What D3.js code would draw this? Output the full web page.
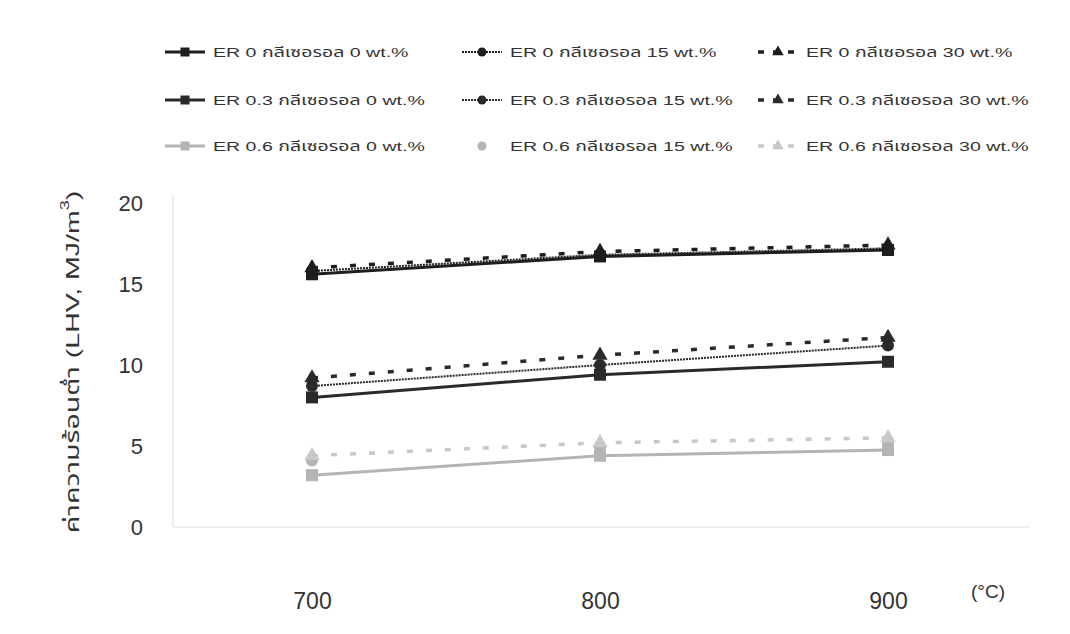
<!DOCTYPE html>
<html>
<head>
<meta charset="utf-8">
<script src="https://cdn.jsdelivr.net/npm/d3@7"></script>
<style>
  body { margin: 0; background: #fff; }
  svg { font-family: Arial, "Liberation Sans", "Noto Sans Thai", sans-serif; }
</style>
</head>
<body>
<div id="chart"></div>
<script>
// LHV vs temperature, by ER and glycerol content

const temps = ["700", "800", "900"];
const yTicks = [0, 5, 10, 15, 20];

const er0_g0 = [15.6, 16.7, 17.1];
const er0_g15 = [15.8, 16.8, 17.2];
const er0_g30 = [16.0, 17.0, 17.4];
const er03_g0 = [8.0, 9.4, 10.2];
const er03_g15 = [8.7, 10.0, 11.2];
const er03_g30 = [9.2, 10.6, 11.7];
const er06_g0 = [3.2, 4.4, 4.75];
const er06_g15 = [4.1, 4.9, 5.1];
const er06_g30 = [4.4, 5.2, 5.5];

const seriesNames = [
  "ER 0 กลีเซอรอล 0 wt.%", "ER 0 กลีเซอรอล 15 wt.%", "ER 0 กลีเซอรอล 30 wt.%",
  "ER 0.3 กลีเซอรอล 0 wt.%", "ER 0.3 กลีเซอรอล 15 wt.%", "ER 0.3 กลีเซอรอล 30 wt.%",
  "ER 0.6 กลีเซอรอล 0 wt.%", "ER 0.6 กลีเซอรอล 15 wt.%", "ER 0.6 กลีเซอรอล 30 wt.%"
];
const seriesValues = [er0_g0, er0_g15, er0_g30, er03_g0, er03_g15, er03_g30, er06_g0, er06_g15, er06_g30];

// style per glycerol level (0, 15, 30) and colour per ER
const erColors = ["#1e1e1e", "#2a2a2a", "#b4b4b4"];
const styles = [
  { marker: "square", width: 3, dash: null },
  { marker: "circle", width: 2, dash: "2,1" },
  { marker: "triangle", width: 3.5, dash: "6,13" }
];

const width = 1070, height = 634;
const x = d3.scalePoint().domain(temps).range([168, 1032]).padding(0.5);
const y = d3.scaleLinear().domain([0, 20]).range([527, 203]);

const svg = d3.select("#chart").append("svg")
  .attr("width", width)
  .attr("height", height);

// faint plot frame
svg.append("line").attr("x1", 173).attr("x2", 173).attr("y1", y(20) - 8).attr("y2", y(0))
  .attr("stroke", "#eee").attr("stroke-width", 2);
svg.append("line").attr("x1", 173).attr("x2", 1030).attr("y1", y(0)).attr("y2", y(0))
  .attr("stroke", "#f0f0f0").attr("stroke-width", 2);

// y axis
const yAxis = d3.axisLeft(y).tickValues(yTicks).tickSize(0).tickPadding(0);
svg.append("g")
  .attr("transform", "translate(143,0)")
  .call(yAxis)
  .call(g => g.select(".domain").remove())
  .call(g => g.selectAll("text")
    .attr("font-size", 22).attr("fill", "#333").attr("font-family", "Arial, 'Liberation Sans', sans-serif"));

// x axis
const xAxis = d3.axisBottom(x).tickSize(0).tickPadding(0);
svg.append("g")
  .attr("transform", "translate(0,593)")
  .call(xAxis)
  .call(g => g.select(".domain").remove())
  .call(g => g.selectAll("text")
    .attr("font-size", 23).attr("fill", "#333").attr("font-family", "Arial, 'Liberation Sans', sans-serif"));

svg.append("text")
  .attr("x", 988).attr("y", 598)
  .attr("text-anchor", "middle")
  .attr("font-size", 19).attr("fill", "#333")
  .text("(°C)");

// y label (stretched along its length like the source)
const ylab = svg.append("text")
  .attr("transform", "translate(79,362) rotate(-90) scale(1.5,1)")
  .attr("text-anchor", "middle")
  .attr("font-size", 19).attr("fill", "#333");
ylab.append("tspan").text("ค่าความร้อนต่ำ (LHV, MJ/m");
ylab.append("tspan").attr("dy", -10).attr("font-size", 12).text("3");
ylab.append("tspan").attr("dy", 10).text(")");

function drawMarker(g, type, cx, cy, size, color) {
  if (type === "square") {
    g.append("rect").attr("x", cx - size / 2).attr("y", cy - size / 2)
      .attr("width", size).attr("height", size).attr("fill", color);
  } else if (type === "circle") {
    g.append("circle").attr("cx", cx).attr("cy", cy).attr("r", size / 2).attr("fill", color);
  } else {
    g.append("path")
      .attr("d", d3.symbol(d3.symbolTriangle, size * size * 0.7)())
      .attr("transform", `translate(${cx},${cy})`)
      .attr("fill", color);
  }
}

const line = d3.line().x((d, i) => x(temps[i])).y(d => y(d));

seriesValues.forEach((vals, k) => {
  const er = Math.floor(k / 3), gl = k % 3;
  const st = styles[gl];
  const color = gl === 2 && er === 2 ? "#c8c8c8" : erColors[er];
  const g = svg.append("g");
  if (!(er === 2 && gl === 1)) {
    g.append("path")
      .datum(vals)
      .attr("d", line)
      .attr("fill", "none")
      .attr("stroke", color)
      .attr("stroke-width", st.width)
      .attr("stroke-dasharray", st.dash);
  }
  vals.forEach((v, i) => drawMarker(g, st.marker, x(temps[i]), y(v), 12, color));
});

// legend
const legendCols = [165, 462, 758];
const legendRows = [52, 100, 146];
seriesValues.forEach((vals, k) => {
  const er = Math.floor(k / 3), gl = k % 3;
  const st = styles[gl];
  const color = gl === 2 && er === 2 ? "#c8c8c8" : erColors[er];
  const lx = legendCols[gl], ly = legendRows[er];
  const g = svg.append("g");
  if (!(er === 2 && gl === 1)) {
    g.append("line")
      .attr("x1", lx).attr("x2", lx + 40).attr("y1", ly).attr("y2", ly)
      .attr("stroke", color)
      .attr("stroke-width", st.width)
      .attr("stroke-dasharray", gl === 2 ? "6,9" : st.dash);
  }
  drawMarker(g, st.marker, lx + 20, ly, 9, color);
  g.append("text")
    .attr("transform", `translate(${lx + 48},${ly + 5}) scale(1.45,1)`)
    .attr("font-size", 13.5).attr("fill", "#333")
    .text(seriesNames[k]);
});
</script>
</body>
</html>
